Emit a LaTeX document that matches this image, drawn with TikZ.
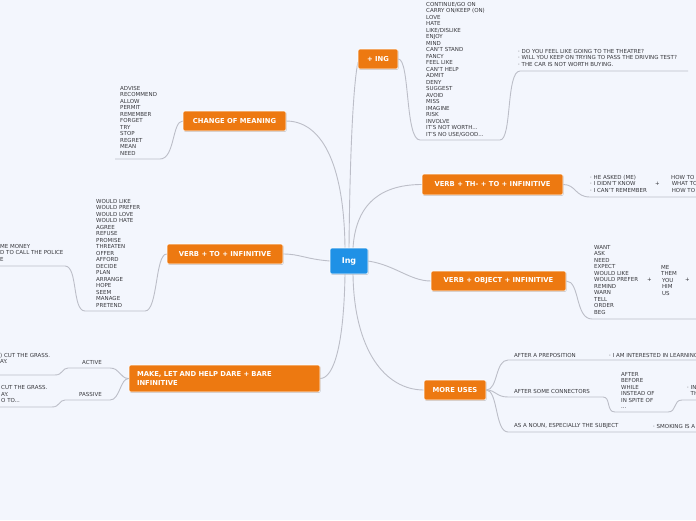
\documentclass[tikz,border=0pt]{standalone}
\usepackage{fontspec}
\setmainfont{DejaVu Sans}
\usetikzlibrary{shadows}
\definecolor{bg}{RGB}{243,246,253}
\definecolor{org}{RGB}{237,121,17}
\definecolor{blu}{RGB}{31,145,230}
\definecolor{lin}{RGB}{188,190,200}
\definecolor{txt}{RGB}{55,55,60}
\tikzset{
  topic/.style={fill=org, text=white, font=\fontsize{6.8}{8.2}\selectfont\bfseries,
    rounded corners=2pt, inner sep=0pt, draw=white, line width=0.6pt,
    drop shadow={shadow xshift=0.6pt, shadow yshift=-0.8pt, fill=black, opacity=0.22}},
  central/.style={topic, fill=blu, font=\fontsize{8}{9}\selectfont\bfseries},
  lst/.style={font=\fontsize{5.5}{6.5}\selectfont, text=txt, inner sep=0pt, anchor=north west, align=left},
  lbl/.style={font=\fontsize{5.5}{6.5}\selectfont, text=txt, inner sep=0pt, anchor=west},
  conn/.style={draw=lin, line width=0.9pt},
}
\begin{document}
\begin{tikzpicture}[x=1pt,y=-1pt]
\useasboundingbox (0,0) rectangle (696,520);
\fill[bg] (0,0) rectangle (696,520);
\clip (0,0) rectangle (696,520);

% central connectors (drawn first, under nodes)
\coordinate (ingc) at (349,261);
\coordinate (ingn) at (349,248);
\coordinate (ingnl) at (345,248);
\coordinate (ingnr) at (353,248);
\coordinate (ingw) at (330,261);
\coordinate (inge) at (368,261);
\coordinate (ingsl) at (345,274);
\coordinate (ingsr) at (353,274);
\coordinate (plusw) at (358,62);
\coordinate (chge) at (286,121);
\coordinate (thw) at (422,184.5);
\coordinate (toe) at (283,254);
\coordinate (objw) at (431,281);
\coordinate (makee) at (320,378.5);
\coordinate (morew) at (424,390);
\draw[conn] (ingn) .. controls (350,140) and (354,80) .. (plusw);
\draw[conn] (ingnl) .. controls (344,160) and (320,121) .. (chge);
\draw[conn] (ingnr) .. controls (356,200) and (385,184.5) .. (thw);
\draw[conn] (ingw) .. controls (305,259) and (300,254) .. (toe);
\draw[conn] (inge) .. controls (395,265) and (410,281) .. (objw);
\draw[conn] (ingsl) .. controls (344,340) and (335,378.5) .. (makee);
\draw[conn] (ingsr) .. controls (354,350) and (385,390) .. (morew);

% main nodes
\node[central, minimum width=38pt, minimum height=26pt] (ing) at (ingc) {Ing};
\node[topic, minimum width=40pt, minimum height=20pt] (plus) at (378,59) {+ ING};
\node[topic, minimum width=103pt, minimum height=20pt] (chg) at (234.5,121) {CHANGE OF MEANING};
\node[topic, minimum width=141pt, minimum height=21pt] (th) at (492.5,184.5) {VERB + TH- + TO + INFINITIVE};
\node[topic, minimum width=116pt, minimum height=20pt] (to) at (225,254) {VERB + TO + INFINITIVE};
\node[topic, minimum width=135pt, minimum height=20pt] (obj) at (498.5,281) {VERB + OBJECT + INFINITIVE};
\node[topic, minimum width=191pt, minimum height=27pt, align=left, text width=175pt] (make) at (224.5,378.5) {MAKE, LET AND HELP DARE + BARE\\INFINITIVE};
\node[topic, minimum width=62pt, minimum height=20pt] (more) at (455,390) {MORE USES};

% + ING
\coordinate (p1) at (420,140);
\coordinate (p2) at (500,140);
\coordinate (p3) at (520,71);
\coordinate (p4) at (688,71);
\draw[conn] (plus.east) .. controls (410,59) and (405,140) .. (p1) -- (p2) .. controls (512,140) and (506,71) .. (p3) -- (p4);
\node[lst] (plusl) at (426,1.9) {CONTINUE/GO ON\\CARRY ON/KEEP (ON)\\LOVE\\HATE\\LIKE/DISLIKE\\ENJOY\\MIND\\CAN'T STAND\\FANCY\\FEEL LIKE\\CAN'T HELP\\ADMIT\\DENY\\SUGGEST\\AVOID\\MISS\\IMAGINE\\RISK\\INVOLVE\\IT'S NOT WORTH...\\IT'S NO USE/GOOD...};
\node[lst] (pluse) at (518,49) {· DO YOU FEEL LIKE GOING TO THE THEATRE?\\· WILL YOU KEEP ON TRYING TO PASS THE DRIVING TEST?\\· THE CAR IS NOT WORTH BUYING.};

% CHANGE OF MEANING
\coordinate (c1) at (160,159);
\coordinate (c2) at (115,159);
\draw[conn] (chg.west) .. controls (172,121) and (175,159) .. (c1) -- (c2);
\node[lst] (chgl) at (120,86) {ADVISE\\RECOMMEND\\ALLOW\\PERMIT\\REMEMBER\\FORGET\\TRY\\STOP\\REGRET\\MEAN\\NEED};

% VERB + TH-
\coordinate (t1) at (590,197);
\coordinate (t2) at (696,197);
\draw[conn] (th.east) .. controls (576,184.5) and (575,197) .. (t1) -- (t2);
\node[lst] (thl) at (590,175) {· HE ASKED (ME)\\· I DIDN'T KNOW\\· I CAN'T REMEMBER};
\node[lbl] (thp) at (655,184) {+};
\node[lst] (thr) at (671,175) {HOW TO\\\hspace{0.6pt}WHAT TO\\\hspace{0.6pt}HOW TO};

% VERB + TO
\coordinate (v1) at (145,311);
\coordinate (v2) at (85,311);
\coordinate (v3) at (65,266);
\coordinate (v4) at (0,266);
\draw[conn] (to.west) .. controls (155,254) and (158,311) .. (v1) -- (v2) .. controls (72,311) and (78,266) .. (v3) -- (v4);
\node[lst] (tol) at (96,199) {WOULD LIKE\\WOULD PREFER\\WOULD LOVE\\WOULD HATE\\AGREE\\REFUSE\\PROMISE\\THREATEN\\OFFER\\AFFORD\\DECIDE\\PLAN\\ARRANGE\\HOPE\\SEEM\\MANAGE\\PRETEND};
\node[lst] (tox) at (0,244) {ME MONEY\\D TO CALL THE POLICE\\E};

% VERB + OBJECT
\coordinate (o1) at (592,319);
\coordinate (o2) at (696,319);
\draw[conn] (obj.east) .. controls (580,281) and (575,319) .. (o1) -- (o2);
\node[lst] (objl) at (594,245) {WANT\\ASK\\NEED\\EXPECT\\WOULD LIKE\\WOULD PREFER\\REMIND\\WARN\\TELL\\ORDER\\BEG};
\node[lbl] (objp1) at (647,280) {+};
\node[lst] (objm) at (661,265) {ME\\THEM\\\hspace{0.8pt}YOU\\\hspace{0.8pt}HIM\\\hspace{0.8pt}US};
\node[lbl] (objp2) at (685,280) {+};

% MAKE, LET
\coordinate (a1) at (110,368);
\coordinate (a2) at (68,368);
\coordinate (a3) at (55,375);
\coordinate (a4) at (0,375);
\coordinate (s1) at (110,400);
\coordinate (s2) at (65,400);
\coordinate (s3) at (52,407);
\coordinate (s4) at (0,407);
\draw[conn] (make.west) .. controls (120,378.5) and (120,368) .. (a1) -- (a2) .. controls (62,368) and (63,375) .. (a3) -- (a4);
\draw[conn] (make.west) .. controls (120,378.5) and (120,400) .. (s1) -- (s2) .. controls (59,400) and (60,407) .. (s3) -- (s4);
\node[lbl] (act) at (82,362) {ACTIVE};
\node[lbl] (pas) at (79,394) {PASSIVE};
\node[lst] (actx) at (0,353) {) CUT THE GRASS.\\AY.};
\node[lst] (pasx) at (1,385.5) {CUT THE GRASS.\\AY.\\O TO...};

% MORE USES
\coordinate (m1) at (508,360);
\coordinate (m2) at (696,360);
\coordinate (n1) at (508,397);
\coordinate (n2) at (603,397);
\coordinate (n3) at (615,412);
\coordinate (n4) at (668,412);
\coordinate (n5) at (682,400);
\coordinate (n6) at (696,400);
\coordinate (k1) at (508,432);
\coordinate (k2) at (696,432);
\draw[conn] (more.east) .. controls (498,390) and (495,360) .. (m1) -- (m2);
\draw[conn] (more.east) .. controls (496,390) and (496,397) .. (n1) -- (n2) .. controls (611,397) and (606,412) .. (n3) -- (n4) .. controls (677,412) and (673,400) .. (n5) -- (n6);
\draw[conn] (more.east) .. controls (498,390) and (495,432) .. (k1) -- (k2);
\node[lbl] (prep) at (514,355) {AFTER A PREPOSITION};
\node[lbl] (prepx) at (609,355) {· I AM INTERESTED IN LEARNING};
\node[lbl] (cnct) at (514,391) {AFTER SOME CONNECTORS};
\node[lst] (cnctl) at (621,372) {AFTER\\BEFORE\\WHILE\\INSTEAD OF\\IN SPITE OF\\...};
\node[lst] (cnctx) at (687,385) {· IN\\\hphantom{· }TH};
\node[lbl] (noun) at (514,426) {AS A NOUN, ESPECIALLY THE SUBJECT};
\node[lbl] (nounx) at (653,426) {· SMOKING IS A};
\end{tikzpicture}
\end{document}
